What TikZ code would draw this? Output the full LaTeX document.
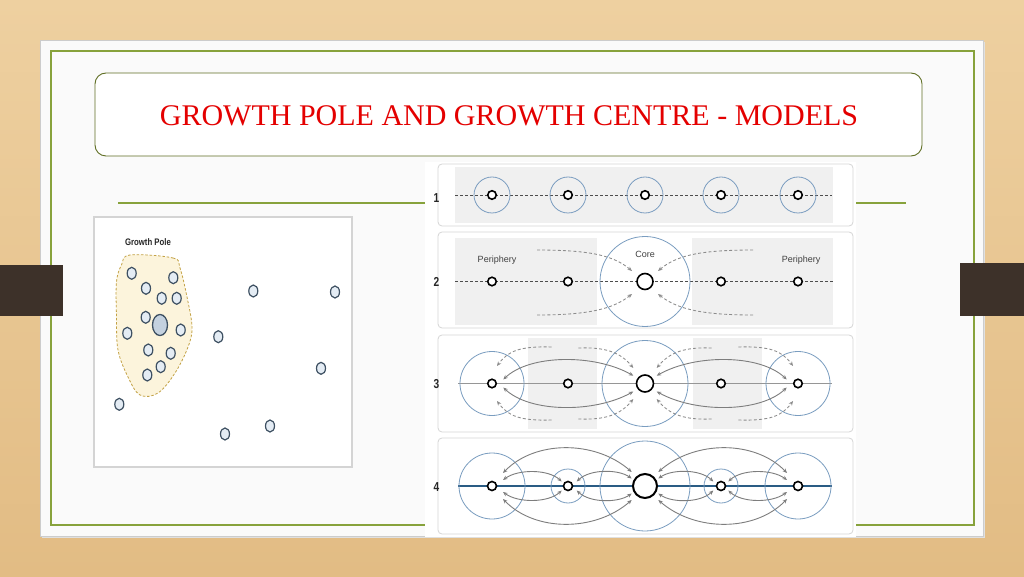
\documentclass[tikz,border=0pt]{standalone}
\usepackage{fontspec}
\setmainfont{Liberation Serif}
\newfontfamily\sansf{Liberation Sans}
\usetikzlibrary{shapes.geometric,arrows.meta}
\definecolor{woodtop}{RGB}{238,208,160}
\definecolor{woodbot}{RGB}{226,188,132}
\definecolor{tabbrown}{RGB}{61,49,41}
\definecolor{panelwhite}{RGB}{250,250,250}
\definecolor{framegreen}{RGB}{135,162,60}
\definecolor{titleline}{RGB}{95,110,35}
\definecolor{titlered}{RGB}{228,0,0}
\definecolor{imgborder}{RGB}{212,212,212}
\definecolor{dotfill}{RGB}{228,236,244}
\definecolor{dotline}{RGB}{62,80,98}
\definecolor{bigdotfill}{RGB}{196,209,223}
\definecolor{blobfill}{RGB}{252,244,220}
\definecolor{blobline}{RGB}{195,162,70}
\definecolor{panelgray}{RGB}{240,240,240}
\definecolor{panelline}{RGB}{214,214,214}
\definecolor{ringblue}{RGB}{122,157,192}
\definecolor{arrgray}{RGB}{125,125,125}
\definecolor{darrgray}{RGB}{140,140,140}
\definecolor{axisgray}{RGB}{150,150,150}
\definecolor{axisblue}{RGB}{42,92,132}
\begin{document}
\begin{tikzpicture}[x=1pt,y=1pt,
  dot/.style={ellipse,draw=dotline,fill=dotfill,line width=1.2pt,minimum width=9pt,minimum height=12pt,inner sep=0pt},
  bigdot/.style={ellipse,draw=dotline,fill=bigdotfill,line width=1.3pt,minimum width=15pt,minimum height=21pt,inner sep=0pt},
  hub/.style={circle,draw=black,fill=white,line width=1.6pt,minimum size=8.5pt,inner sep=0pt},
  ring/.style={circle,draw=ringblue,line width=0.8pt,inner sep=0pt},
  panelbox/.style={draw=panelline,fill=white,rounded corners=4pt,line width=0.8pt},
  arr/.style={draw=arrgray,line width=0.9pt,{Stealth[length=4.5pt,width=3.8pt]}-{Stealth[length=4.5pt,width=3.8pt]}},
  darr/.style={draw=darrgray,line width=0.85pt,dash pattern=on 3pt off 2.2pt,-{Stealth[length=4.5pt,width=3.8pt]}},
  dashaxis/.style={draw=black!70,line width=0.7pt,dash pattern=on 3pt off 2pt},
  numlabel/.style={font=\sansf\bfseries\fontsize{13}{14}\selectfont,text=black!85,transform shape,xscale=0.78},
  smalllabel/.style={font=\sansf\fontsize{9}{10}\selectfont,text=black!75}
]
\useasboundingbox (0,0) rectangle (1024,576);
% background
\shade[top color=woodtop,bottom color=woodbot] (0,0) rectangle (1024,576);
% slide panel
\fill[black!12] (42,38) rectangle (985,534);
\draw[fill=panelwhite,draw=black!20,line width=0.5pt] (40,40) rectangle (983,536);
\draw[framegreen,line width=1.1pt] (51,51) rectangle (974,525);
% tabs
\fill[tabbrown] (0,260) rectangle (63,311);
\fill[tabbrown] (960,260) rectangle (1024,313);
% title box
\node[draw=titleline,fill=white,rounded corners=11pt,line width=0.9pt,minimum width=827pt,minimum height=83pt] (titlebox) at (508.5,461.5) {};
\node[text=titlered,font=\fontsize{30}{32}\selectfont] (title) at (509,460) {GROWTH POLE AND GROWTH CENTRE - MODELS};
% rule
\coordinate (ruleL) at (118,373);
\coordinate (ruleR) at (906,373);
\draw[framegreen,line width=1.2pt] (ruleL) -- (ruleR);

% ---------------- left image -----------------
\draw[fill=white,draw=imgborder,line width=2.5pt] (94,109) rectangle (352,359);
\node[font=\sansf\bfseries\fontsize{9.5}{10}\selectfont,text=black!85,transform shape,xscale=0.82] (gplabel) at (148,334) {Growth Pole};
\draw[blobline,fill=blobfill,line width=0.8pt,dash pattern=on 2.5pt off 1.8pt]
  plot[smooth cycle,tension=0.6] coordinates {(130,321) (173,318) (180,308) (187,279) (192,249) (188,229) (175,203) (158,183) (140,181) (128,199) (118,226) (116.5,259) (116.5,294) (121.5,311)};
\foreach \x/\y [count=\i] in {131.7/302.7,146/287.7,173.3/298.3,161.7/277.7,176.7/277.7,145.7/258.7,127.3/242.7,180.7/246,148.3/226,170.7/222.7,160.7/209.3,147.3/201,253.3/285,335/284,218.3/239.3,321/207.7,119.3/171.7,225/142,270/150}
  \node[dot] (p\i) at (\x,\y) {};
\node[bigdot] (pc) at (160,251) {};

% ---------------- right image -----------------
\fill[white] (425,39) rectangle (856,414);
% panel 1
\draw[panelbox] (438,350) rectangle (853,412);
\fill[panelgray] (455,353) rectangle (833,409);
\coordinate (a0) at (455,381);
\coordinate (a6) at (832,381);
\draw[dashaxis] (a0) -- (a6);
\foreach \x [count=\i] in {492,568,645,721,798}{
  \node[ring,minimum size=36pt] (ra\i) at (\x,381) {};
  \node[hub] (a\i) at (\x,381) {};
}
\node[numlabel] (n1) at (436.5,378) {1};

% panel 2
\draw[panelbox] (438,248) rectangle (853,344);
\fill[panelgray] (455,251) rectangle (597,338);
\fill[panelgray] (692,251) rectangle (833,338);
\coordinate (b0) at (455,294.5);
\coordinate (b6) at (833,294.5);
\draw[dashaxis] (b0) -- (b6);
\node[ring,minimum size=90pt] (rb3) at (645,294.5) {};
\foreach \x [count=\i] in {492,568,645,721,798}{
  \node[hub] (b\i) at (\x,294.5) {};
}
\node[hub,minimum size=16pt] (b3) at (645,294.5) {};
\node[smalllabel] (core) at (645,322) {Core};
\node[smalllabel] (perL) at (497,316) {Periphery};
\node[smalllabel] (perR) at (801,316) {Periphery};
\coordinate (bULs) at (537,326);   \coordinate (bULt) at (632,305);
\coordinate (bURs) at (753,326);   \coordinate (bURt) at (658,305);
\coordinate (bLLs) at (537,261);   \coordinate (bLLt) at (632,282);
\coordinate (bLRs) at (753,261);   \coordinate (bLRt) at (658,282);
\draw[darr] (bULs) .. controls (592,326) and (614,320) .. (bULt);
\draw[darr] (bURs) .. controls (698,326) and (676,320) .. (bURt);
\draw[darr] (bLLs) .. controls (592,261) and (614,268) .. (bLLt);
\draw[darr] (bLRs) .. controls (698,261) and (676,268) .. (bLRt);
\node[numlabel] (n2) at (436.5,294) {2};

% panel 3
\draw[panelbox] (438,144) rectangle (853,241);
\fill[panelgray] (528,147) rectangle (597,238);
\fill[panelgray] (693,147) rectangle (762,238);
\coordinate (c0) at (458,192.5);
\coordinate (c6) at (832,192.5);
\draw[axisgray,line width=1.1pt] (c0) -- (c6);
\node[ring,minimum size=64pt] (rc1) at (492,192.5) {};
\node[ring,minimum size=86pt] (rc3) at (645,192.5) {};
\node[ring,minimum size=64pt] (rc5) at (798,192.5) {};
\foreach \x [count=\i] in {492,568,645,721,798}{
  \node[hub] (c\i) at (\x,192.5) {};
}
\node[hub,minimum size=17pt] (c3) at (645,192.5) {};
% solid arrows
\coordinate (c1u) at (503.3,196.5); \coordinate (c3ul) at (633.3,200.3);
\coordinate (c1d) at (503.3,188.5); \coordinate (c3dl) at (633.3,184.5);
\coordinate (c5u) at (786.7,196.5); \coordinate (c3ur) at (656.7,200.3);
\coordinate (c5d) at (786.7,188.5); \coordinate (c3dr) at (656.7,184.5);
\draw[arr] (c1u) .. controls (530,222) and (595,222) .. (c3ul);
\draw[arr] (c1d) .. controls (530,163) and (595,163) .. (c3dl);
\draw[arr] (c5u) .. controls (760,222) and (695,222) .. (c3ur);
\draw[arr] (c5d) .. controls (760,163) and (695,163) .. (c3dr);
% dashed arrows
\coordinate (cLts) at (551.7,229);  \coordinate (cLtt) at (497,210);
\coordinate (cLbs) at (551.7,156);  \coordinate (cLbt) at (497,175);
\coordinate (cCtls) at (578.3,228); \coordinate (cCtlt) at (633.3,208);
\coordinate (cCbls) at (578.3,157); \coordinate (cCblt) at (633.3,177);
\coordinate (cCtrs) at (711.7,228); \coordinate (cCtrt) at (656.7,208);
\coordinate (cCbrs) at (711.7,157); \coordinate (cCbrt) at (656.7,177);
\coordinate (cRts) at (738.3,229);  \coordinate (cRtt) at (793,210);
\coordinate (cRbs) at (738.3,156);  \coordinate (cRbt) at (793,175);
\draw[darr] (cLts) .. controls (520,230) and (508,225) .. (cLtt);
\draw[darr] (cLbs) .. controls (520,155) and (508,160) .. (cLbt);
\draw[darr] (cCtls) .. controls (605,229) and (620,224) .. (cCtlt);
\draw[darr] (cCbls) .. controls (605,156) and (620,161) .. (cCblt);
\draw[darr] (cCtrs) .. controls (685,229) and (670,224) .. (cCtrt);
\draw[darr] (cCbrs) .. controls (685,156) and (670,161) .. (cCbrt);
\draw[darr] (cRts) .. controls (770,230) and (782,225) .. (cRtt);
\draw[darr] (cRbs) .. controls (770,155) and (782,160) .. (cRbt);
\node[numlabel] (n3) at (436.5,192) {3};

% panel 4
\draw[panelbox] (438,42) rectangle (853,138);
\coordinate (d0) at (458,90);
\coordinate (d6) at (832,90);
\draw[axisblue,line width=1.5pt] (d0) -- (d6);
\node[ring,minimum size=66pt] (rd1) at (492,90) {};
\node[ring,minimum size=34pt] (rd2) at (568,90) {};
\node[ring,minimum size=90pt] (rd3) at (645,90) {};
\node[ring,minimum size=34pt] (rd4) at (721,90) {};
\node[ring,minimum size=66pt] (rd5) at (798,90) {};
\foreach \x [count=\i] in {492,568,645,721,798}{
  \node[hub,minimum size=9pt] (d\i) at (\x,90) {};
}
\node[hub,minimum size=24pt,line width=2pt] (d3) at (645,90) {};
% left side arrows
\coordinate (d1ub) at (503,103);   \coordinate (d3ubl) at (631.7,104);
\coordinate (d1us) at (503,96);    \coordinate (d2ul) at (561.7,94.5);
\coordinate (d2ur) at (576.7,94.5); \coordinate (d3usl) at (631.7,97.5);
\coordinate (d1db) at (503,77);    \coordinate (d3dbl) at (631.7,76);
\coordinate (d1ds) at (503,84);    \coordinate (d2dl) at (561.7,85.5);
\coordinate (d2dr) at (576.7,85.5); \coordinate (d3dsl) at (631.7,82.5);
\draw[arr] (d1ub) .. controls (535,136) and (595,136) .. (d3ubl);
\draw[arr] (d1us) .. controls (518,107) and (548,107) .. (d2ul);
\draw[arr] (d2ur) .. controls (590,107) and (618,107) .. (d3usl);
\draw[arr] (d1db) .. controls (535,44) and (595,44) .. (d3dbl);
\draw[arr] (d1ds) .. controls (518,73) and (548,73) .. (d2dl);
\draw[arr] (d2dr) .. controls (590,73) and (618,73) .. (d3dsl);
% right side arrows
\coordinate (d5ub) at (787,103);   \coordinate (d3ubr) at (658.3,104);
\coordinate (d5us) at (787,96);    \coordinate (d4ur) at (728.3,94.5);
\coordinate (d4ul) at (713.3,94.5); \coordinate (d3usr) at (658.3,97.5);
\coordinate (d5db) at (787,77);    \coordinate (d3dbr) at (658.3,76);
\coordinate (d5ds) at (787,84);    \coordinate (d4dr) at (728.3,85.5);
\coordinate (d4dl) at (713.3,85.5); \coordinate (d3dsr) at (658.3,82.5);
\draw[arr] (d5ub) .. controls (755,136) and (695,136) .. (d3ubr);
\draw[arr] (d5us) .. controls (772,107) and (742,107) .. (d4ur);
\draw[arr] (d4ul) .. controls (700,107) and (672,107) .. (d3usr);
\draw[arr] (d5db) .. controls (755,44) and (695,44) .. (d3dbr);
\draw[arr] (d5ds) .. controls (772,73) and (742,73) .. (d4dr);
\draw[arr] (d4dl) .. controls (700,73) and (672,73) .. (d3dsr);
\node[numlabel] (n4) at (436.5,89) {4};
\end{tikzpicture}
\end{document}
